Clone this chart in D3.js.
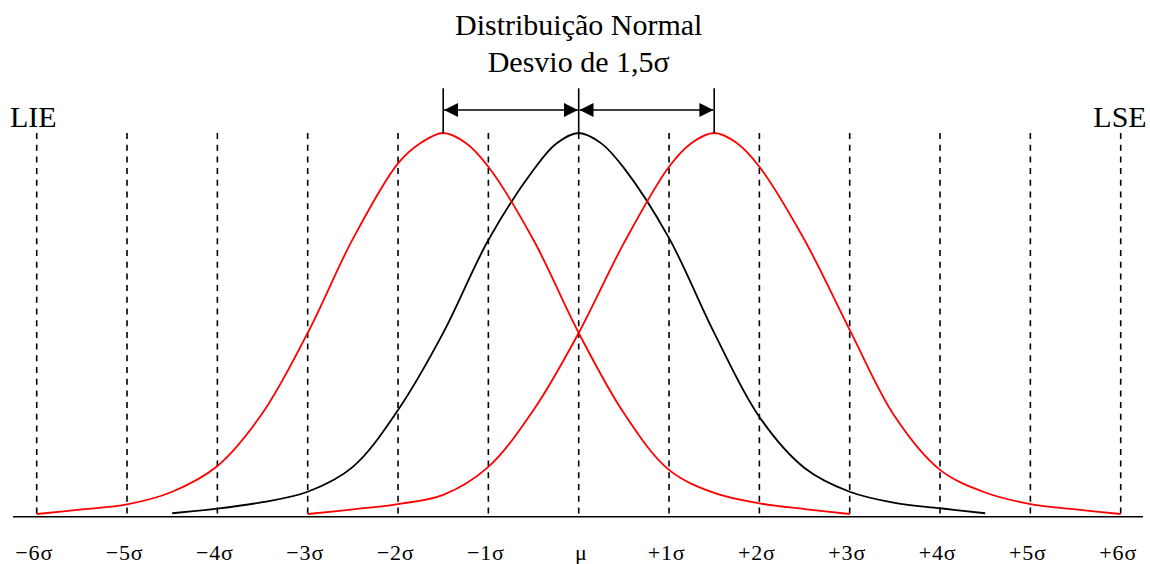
<!DOCTYPE html>
<html>
<head>
<meta charset="utf-8">
<script src="https://cdn.jsdelivr.net/npm/d3@7"></script>
<style>
  html, body { margin: 0; padding: 0; background: #fff; }
  svg { display: block; }
  text { font-family: "Liberation Serif", "Times New Roman", serif; fill: #000; }
</style>
</head>
<body>
<svg id="chart" width="1150" height="564"></svg>
<script>
// ---- data (x in sigma units, y as % of peak height) ----
const sigmaTicks = [-6, -5, -4, -3, -2, -1, 0, 1, 2, 3, 4, 5, 6];
const tickLabels = ["\u22126\u03c3", "\u22125\u03c3", "\u22124\u03c3", "\u22123\u03c3", "\u22122\u03c3", "\u22121\u03c3", "\u03bc",
                    "+1\u03c3", "+2\u03c3", "+3\u03c3", "+4\u03c3", "+5\u03c3", "+6\u03c3"];

const redLeftX  = [-6, -5.5, -5, -4.5, -4, -3.5, -3, -2.5, -2, -1.75, -1.5, -1.25, -1, -0.5, 0, 0.5, 1, 1.5, 2, 2.5, 3];
const redLeftY  = [0.7, 1.9, 3.2, 6.5, 13.2, 27.0, 47.9, 72.4, 92.1, 97.4, 100, 97.4, 91.2, 72.1, 47.9, 27.0, 12.2, 6.2, 3.5, 2.0, 0.7];

const blackX    = [-4.5, -4, -3.5, -3, -2.5, -2, -1.5, -1, -0.5, -0.25, 0, 0.25, 0.5, 1, 1.5, 2, 2.5, 3, 3.5, 4, 4.5];
const blackY    = [0.9, 2.1, 3.8, 6.5, 13.0, 27.8, 47.9, 72.1, 90.4, 97.2, 100, 97.3, 90.9, 72.6, 47.9, 26.0, 12.7, 6.5, 3.6, 2.2, 0.9];

const redRightX = [-3, -2.5, -2, -1.5, -1, -0.5, 0, 0.5, 1, 1.25, 1.5, 1.75, 2, 2.5, 3, 3.5, 4, 4.5, 5, 5.5, 6];
const redRightY = [0.7, 1.9, 3.3, 5.7, 13.0, 27.8, 47.9, 71.3, 91.2, 97.4, 100, 97.4, 91.2, 72.1, 48.7, 26.1, 12.2, 6.3, 3.3, 1.9, 0.7];

const shiftMarks = [-1.5, 0, 1.5];
const titleLines = ["Distribui\u00e7\u00e3o Normal", "Desvio de 1,5\u03c3"];
const limitLabels = ["LIE", "LSE"];

// ---- drawing ----
const svg = d3.select("#chart");
const x = d3.scaleLinear().domain([-6, 6]).range([36.7, 1120.7]);
const y = d3.scaleLinear().domain([0, 100]).range([516.7, 133]);

// dashed sigma lines
svg.append("g").selectAll("line").data(sigmaTicks).join("line")
  .attr("x1", d => x(d)).attr("x2", d => x(d))
  .attr("y1", y(100)).attr("y2", y(0))
  .attr("stroke", "#000").attr("stroke-width", 1.6)
  .attr("stroke-dasharray", "6,5.7");

// curves
const line = d3.line().x(d => x(d[0])).y(d => y(d[1])).curve(d3.curveCatmullRom.alpha(0.5));
const series = [
  { xs: blackX, ys: blackY, color: "#000000" },
  { xs: redLeftX, ys: redLeftY, color: "#ff0000" },
  { xs: redRightX, ys: redRightY, color: "#ff0000" }
];
svg.append("g").selectAll("path").data(series).join("path")
  .attr("d", s => line(s.xs.map((v, i) => [v, s.ys[i]])))
  .attr("fill", "none").attr("stroke", s => s.color).attr("stroke-width", 1.8);

// baseline
svg.append("line").attr("x1", 13).attr("x2", 1143).attr("y1", y(0)).attr("y2", y(0))
  .attr("stroke", "#000").attr("stroke-width", 1.6);

// axis labels
const axis = d3.axisBottom(x).tickValues(sigmaTicks).tickFormat((d, i) => tickLabels[i]).tickSize(0);
const gAxis = svg.append("g").attr("transform", `translate(0,${y(0)})`).call(axis);
gAxis.select(".domain").remove();
gAxis.selectAll("text")
  .attr("y", 43.5).attr("dy", 0)
  .attr("dx", d => d === 0 ? 2 : -3)
  .style("font-family", "'Liberation Serif', 'Times New Roman', serif")
  .style("font-size", "22px").style("letter-spacing", "0.8px").attr("fill", "#000");

// shift marker verticals
svg.append("g").selectAll("line").data(shiftMarks).join("line")
  .attr("x1", d => x(d)).attr("x2", d => x(d))
  .attr("y1", 88.3).attr("y2", y(100))
  .attr("stroke", "#000").attr("stroke-width", 1.6);

// double arrows
const defs = svg.append("defs");
defs.append("marker").attr("id", "ah").attr("viewBox", "0 0 14 14")
  .attr("refX", 14).attr("refY", 7).attr("markerWidth", 14).attr("markerHeight", 14)
  .attr("markerUnits", "userSpaceOnUse").attr("orient", "auto-start-reverse")
  .append("path").attr("d", "M0,0 L14,7 L0,14 Z").attr("fill", "#000");
const arrowY = 110;
const segs = [[shiftMarks[0], shiftMarks[1]], [shiftMarks[1], shiftMarks[2]]];
svg.append("g").selectAll("line").data(segs).join("line")
  .attr("x1", d => x(d[0]) + 0.8).attr("x2", d => x(d[1]) - 0.8)
  .attr("y1", arrowY).attr("y2", arrowY)
  .attr("stroke", "#000").attr("stroke-width", 1.6)
  .attr("marker-start", "url(#ah)").attr("marker-end", "url(#ah)");

// title
svg.append("g").selectAll("text").data(titleLines).join("text")
  .attr("x", x(0)).attr("y", (d, i) => 35 + i * 36.7)
  .attr("text-anchor", "middle").style("font-size", "30px").text(d => d);

// limit labels
svg.append("text").attr("x", 10).attr("y", 126.7).style("font-size", "30px").text(limitLabels[0]);
svg.append("text").attr("x", 1146.7).attr("y", 126.7).attr("text-anchor", "end").style("font-size", "30px").text(limitLabels[1]);
</script>
</body>
</html>
